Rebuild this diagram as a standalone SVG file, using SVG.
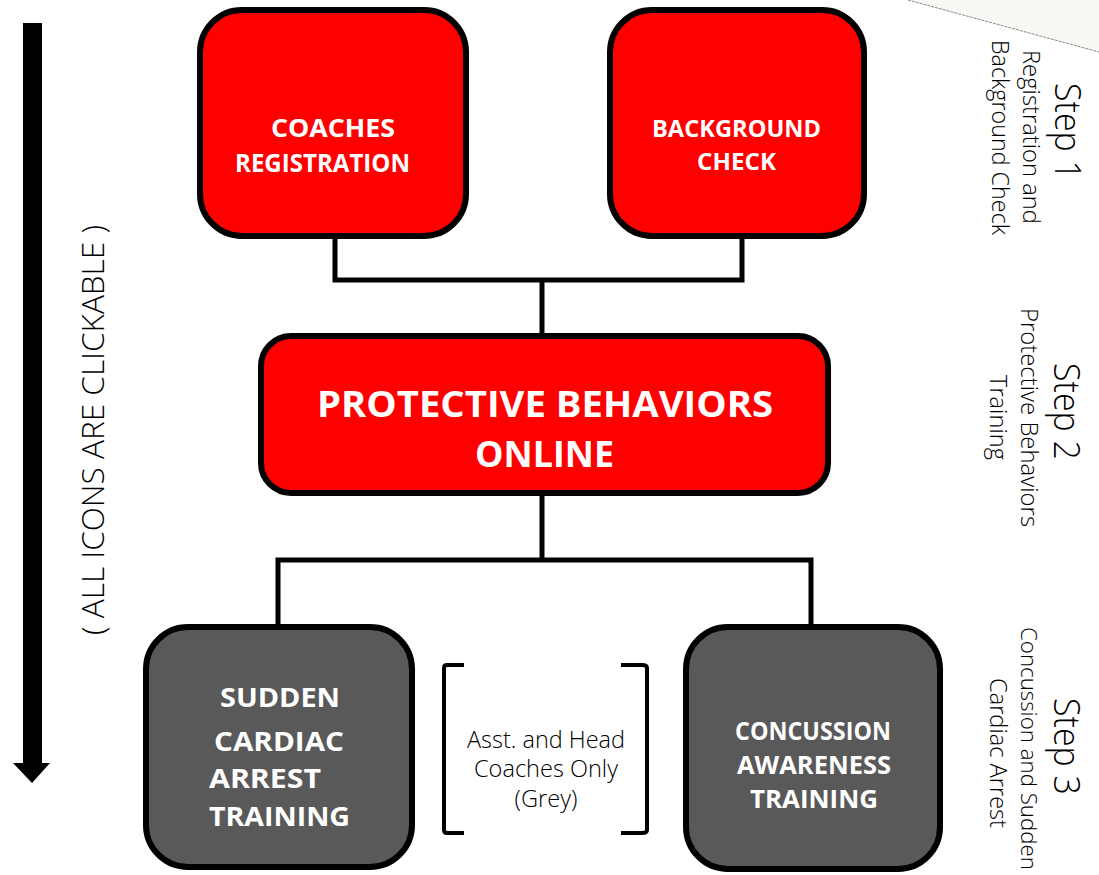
<svg xmlns="http://www.w3.org/2000/svg" width="1099" height="875" viewBox="0 0 1099 875">
<style>
.box{stroke:#000;stroke-width:6}
.red{fill:#f00}
.grey{fill:#595959}
.conn{fill:none;stroke:#000;stroke-width:5}
.brk{fill:none;stroke:#000;stroke-width:4}
text{font-family:"Open Sans","Liberation Sans",sans-serif}
.b{font-weight:700;fill:#fff;text-anchor:middle}
.l{font-weight:300;fill:#000}
</style>
<rect width="1099" height="875" fill="#fff"/>
<g id="corner"><polygon points="908,0 1099,52 1099,0" fill="#f8f8f5"/><line x1="908" y1="0" x2="1099" y2="52" stroke="#888" stroke-width="1" stroke-dasharray="3 1"/></g>
<g id="connectors">
<polyline class="conn" points="335,235 335,280 742,280 742,235"/>
<line class="conn" x1="542" y1="280" x2="542" y2="336"/>
<line class="conn" x1="542" y1="493" x2="542" y2="560"/>
<polyline class="conn" points="278,627 278,560 811,560 811,627"/>
</g>
<g id="direction-arrow"><polygon points="23,23 42,23 42,763 50,763 32,783 13,763 23,763" fill="#000"/>
<text class="l" transform="translate(104,635) rotate(-90)" font-size="31" textLength="410" lengthAdjust="spacingAndGlyphs">( ALL ICONS ARE CLICKABLE )</text></g>
<g id="coaches-registration"><rect class="box red" x="200" y="10" width="266" height="226" rx="42"/>
<text class="b" x="333" y="137" font-size="25" textLength="124" lengthAdjust="spacingAndGlyphs">COACHES</text><text class="b" x="322.500" y="172" font-size="25" textLength="175" lengthAdjust="spacingAndGlyphs">REGISTRATION</text></g>
<g id="background-check"><rect class="box red" x="610" y="10" width="254" height="226" rx="42"/>
<text class="b" x="736.500" y="137" font-size="23" textLength="169" lengthAdjust="spacingAndGlyphs">BACKGROUND</text><text class="b" x="736.500" y="170" font-size="23" textLength="79" lengthAdjust="spacingAndGlyphs">CHECK</text></g>
<g id="protective-behaviors"><rect class="box red" x="261" y="336" width="567" height="157" rx="30"/>
<text class="b" x="545" y="417" font-size="36" textLength="456" lengthAdjust="spacingAndGlyphs">PROTECTIVE BEHAVIORS</text><text class="b" x="544.500" y="467" font-size="36" textLength="139" lengthAdjust="spacingAndGlyphs">ONLINE</text></g>
<g id="sudden-cardiac"><rect class="box grey" x="146" y="627" width="266" height="240" rx="42"/>
<text class="b" x="280" y="707" font-size="27" textLength="120" lengthAdjust="spacingAndGlyphs">SUDDEN</text><text class="b" x="279" y="751" font-size="27" textLength="130" lengthAdjust="spacingAndGlyphs">CARDIAC</text><text class="b" x="265" y="788" font-size="27" textLength="112" lengthAdjust="spacingAndGlyphs">ARREST</text><text class="b" x="279.500" y="826" font-size="27" textLength="141" lengthAdjust="spacingAndGlyphs">TRAINING</text></g>
<g id="concussion"><rect class="box grey" x="686" y="627" width="254" height="242" rx="42"/>
<text class="b" x="813" y="740" font-size="25" textLength="156" lengthAdjust="spacingAndGlyphs">CONCUSSION</text><text class="b" x="814" y="774" font-size="25" textLength="154" lengthAdjust="spacingAndGlyphs">AWARENESS</text><text class="b" x="814" y="808" font-size="25" textLength="128" lengthAdjust="spacingAndGlyphs">TRAINING</text></g>
<g id="note"><path class="brk" d="M464,665H447Q444,665 444,668V830Q444,833 447,833H464"/><path class="brk" d="M621,665H642Q647,665 647,668V830Q647,833 642,833H621"/>
<g class="l" font-size="23" text-anchor="middle"><text x="546" y="748" textLength="158" lengthAdjust="spacingAndGlyphs">Asst. and Head</text><text x="546" y="777" textLength="144" lengthAdjust="spacingAndGlyphs">Coaches Only</text><text x="546" y="807" textLength="63" lengthAdjust="spacingAndGlyphs">(Grey)</text></g></g>
<g id="steps">
<text class="l" transform="translate(1055,83) rotate(90)" font-size="37" textLength="97" lengthAdjust="spacingAndGlyphs">Step 1</text>
<text class="l" transform="translate(1023,50) rotate(90)" font-size="23" textLength="174" lengthAdjust="spacingAndGlyphs">Registration and</text>
<text class="l" transform="translate(992,40) rotate(90)" font-size="23" textLength="195" lengthAdjust="spacingAndGlyphs">Background Check</text>
<text class="l" transform="translate(1054,363) rotate(90)" font-size="37" textLength="97" lengthAdjust="spacingAndGlyphs">Step 2</text>
<text class="l" transform="translate(1021,308) rotate(90)" font-size="23" textLength="219" lengthAdjust="spacingAndGlyphs">Protective Behaviors</text>
<text class="l" transform="translate(990,375) rotate(90)" font-size="23" textLength="85" lengthAdjust="spacingAndGlyphs">Training</text>
<text class="l" transform="translate(1054,698) rotate(90)" font-size="37" textLength="97" lengthAdjust="spacingAndGlyphs">Step 3</text>
<text class="l" transform="translate(1021,627) rotate(90)" font-size="22" textLength="243" lengthAdjust="spacingAndGlyphs">Concussion and Sudden</text>
<text class="l" transform="translate(990,678) rotate(90)" font-size="23" textLength="150" lengthAdjust="spacingAndGlyphs">Cardiac Arrest</text>
</g>
</svg>
